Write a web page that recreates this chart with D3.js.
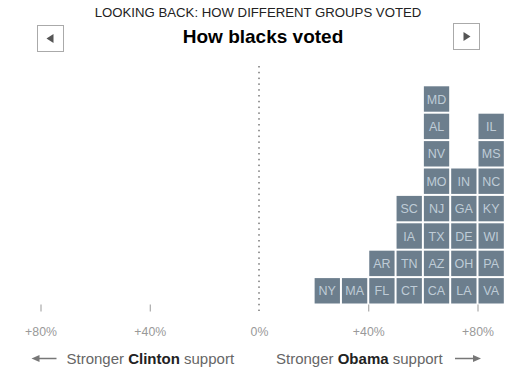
<!DOCTYPE html>
<html>
<head>
<meta charset="utf-8">
<script src="https://cdn.jsdelivr.net/npm/d3@7"></script>
<style>
  body { margin: 0; background: #fff; }
  svg { display: block; font-family: "Liberation Sans", Arial, sans-serif; }
</style>
</head>
<body>
<div id="chart"></div>
<script>
// Obama margin among black voters, binned by 10 points
const binStart = [20, 30, 40, 50, 60, 70, 80];
const binStates = [
    ["NY"],
    ["MA"],
    ["FL", "AR"],
    ["CT", "TN", "IA", "SC"],
    ["CA", "AZ", "TX", "NJ", "MO", "NV", "AL", "MD"],
    ["LA", "OH", "DE", "GA", "IN"],
    ["VA", "PA", "WI", "KY", "NC", "MS", "IL"]
];
const tickValues = [-80, -40, 0, 40, 80];
const tickLabels = ["+80%", "+40%", "0%", "+40%", "+80%"];

const kicker = "LOOKING BACK: HOW DIFFERENT GROUPS VOTED";
const title = "How blacks voted";

const width = 517, height = 373;
const baseY = 304.5;

const svg = d3.select("#chart")
    .append("svg")
    .attr("width", width)
    .attr("height", height);

// x: negative = Clinton side, positive = Obama side
const x = d3.scaleLinear()
    .domain([-80, 80])
    .range([40.5, 477.5]);

// y: number of states stacked in a bin
const y = d3.scaleLinear()
    .domain([0, 8])
    .range([baseY, 85.3]);

// header
svg.append("text")
    .attr("x", 258).attr("y", 17)
    .attr("text-anchor", "middle")
    .attr("font-size", "13.2px")
    .attr("fill", "#222")
    .text(kicker);

svg.append("text")
    .attr("x", 263).attr("y", 43)
    .attr("text-anchor", "middle")
    .attr("font-size", "19px")
    .attr("font-weight", "bold")
    .attr("fill", "#000")
    .text(title);

// prev / next buttons
const buttons = [
    { x: 37.5, y: 25.5, dir: -1 },
    { x: 453.5, y: 23.5, dir: 1 }
];
buttons.forEach(b => {
    svg.append("rect")
        .attr("x", b.x).attr("y", b.y)
        .attr("width", 26).attr("height", 26)
        .attr("fill", "#fff")
        .attr("stroke", "#aaa");
    const cx = b.x + 13, cy = b.y + 13;
    svg.append("path")
        .attr("d", b.dir < 0
            ? `M${cx - 4},${cy}L${cx + 3},${cy - 4.5}L${cx + 3},${cy + 4.5}Z`
            : `M${cx + 4},${cy}L${cx - 3},${cy - 4.5}L${cx - 3},${cy + 4.5}Z`)
        .attr("fill", "#555");
});

// center dotted line
svg.append("line")
    .attr("x1", x(0)).attr("x2", x(0))
    .attr("y1", 66).attr("y2", 311)
    .attr("stroke", "#333")
    .attr("stroke-width", 1)
    .attr("stroke-dasharray", "1.5,4.3");

// axis
const axis = svg.append("g")
    .attr("transform", "translate(0," + baseY + ")")
    .call(d3.axisBottom(x)
        .tickValues(tickValues)
        .tickSize(7)
        .tickPadding(15.5)
        .tickFormat((d, i) => tickLabels[i]));
axis.select(".domain").remove();
axis.selectAll("line").attr("stroke", "#999");
axis.selectAll("text")
    .attr("fill", "#999")
    .attr("font-size", "12.3px")
    .attr("font-family", "Liberation Sans, Arial, sans-serif");
// center tick sits under the dotted line
axis.selectAll(".tick").filter(d => d === 0).select("line").remove();

// cells
const cells = [];
binStates.forEach((states, i) => {
    states.forEach((s, j) => cells.push({ start: binStart[i], row: j, state: s }));
});

const cell = svg.append("g").selectAll("g")
    .data(cells)
    .enter().append("g");

cell.append("rect")
    .attr("x", d => x(d.start) + 1)
    .attr("y", d => y(d.row + 1) + 1)
    .attr("width", d => x(d.start + 10) - x(d.start) - 2)
    .attr("height", d => y(d.row) - y(d.row + 1) - 2)
    .attr("fill", "#6c7e8d");

cell.append("text")
    .attr("x", d => (x(d.start) + x(d.start + 10)) / 2)
    .attr("y", d => (y(d.row) + y(d.row + 1)) / 2 + 4.5)
    .attr("text-anchor", "middle")
    .attr("font-size", "12.5px")
    .attr("fill", "#bfccd7")
    .text(d => d.state);

// bottom labels
function sideLabel(xPos, name) {
    const t = svg.append("text")
        .attr("x", xPos).attr("y", 364)
        .attr("font-size", "15px")
        .attr("fill", "#666");
    t.append("tspan").text("Stronger ");
    t.append("tspan").attr("font-weight", "bold").attr("fill", "#222").text(name);
    t.append("tspan").text(" support");
}
sideLabel(66.5, "Clinton");
sideLabel(276, "Obama");

function arrow(x1, x2, yPos) {
    const dir = Math.sign(x2 - x1);
    svg.append("line")
        .attr("x1", x1).attr("x2", x2 - dir * 6)
        .attr("y1", yPos).attr("y2", yPos)
        .attr("stroke", "#777")
        .attr("stroke-width", 1.5);
    svg.append("path")
        .attr("d", `M${x2},${yPos}L${x2 - dir * 8},${yPos - 3.5}L${x2 - dir * 8},${yPos + 3.5}Z`)
        .attr("fill", "#777");
}
arrow(56.5, 31.5, 358.5);
arrow(455, 481, 358.5);
</script>
</body>
</html>
